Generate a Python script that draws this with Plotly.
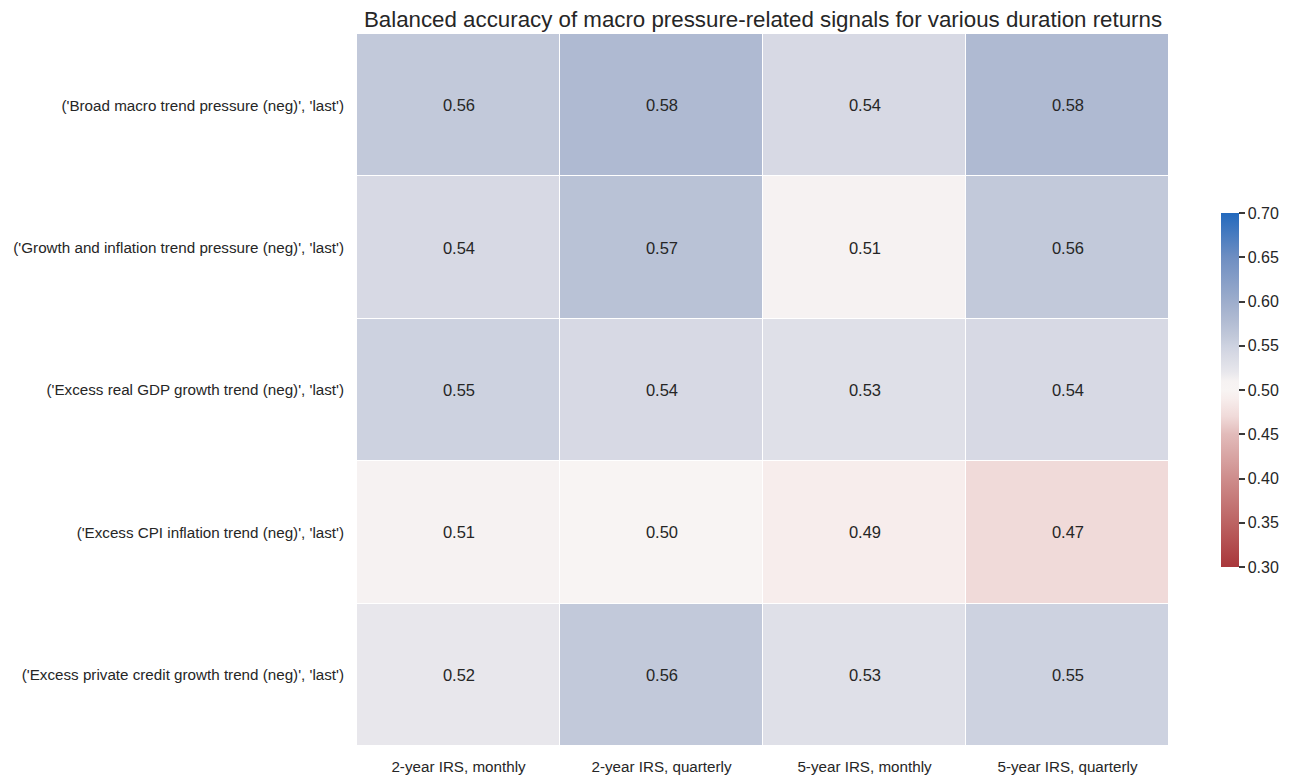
import plotly.graph_objects as go

rows = [
    "('Broad macro trend pressure (neg)', 'last')",
    "('Growth and inflation trend pressure (neg)', 'last')",
    "('Excess real GDP growth trend (neg)', 'last')",
    "('Excess CPI inflation trend (neg)', 'last')",
    "('Excess private credit growth trend (neg)', 'last')",
]
cols = ["2-year IRS, monthly", "2-year IRS, quarterly", "5-year IRS, monthly", "5-year IRS, quarterly"]
values = [
    [0.56, 0.58, 0.54, 0.58],
    [0.54, 0.57, 0.51, 0.56],
    [0.55, 0.54, 0.53, 0.54],
    [0.51, 0.50, 0.49, 0.47],
    [0.52, 0.56, 0.53, 0.55],
]
cbar_ticks = [0.30, 0.35, 0.40, 0.45, 0.50, 0.55, 0.60, 0.65, 0.70]

colorscale = [
    [0.0, "#A9373B"],
    [0.125, "#BC6363"],
    [0.25, "#CE8D8C"],
    [0.375, "#E2BBBA"],
    [0.425, "#F0DAD9"],
    [0.475, "#F7EDEC"],
    [0.5, "#F8F4F3"],
    [0.525, "#F6F2F2"],
    [0.55, "#E8E7EC"],
    [0.575, "#DFE0E8"],
    [0.6, "#D7D9E4"],
    [0.625, "#CDD2E0"],
    [0.65, "#C2C9DA"],
    [0.7, "#AFBAD2"],
    [0.75, "#9DADCC"],
    [0.875, "#6E8EC2"],
    [1.0, "#2369BD"],
]

text = [[f"{v:.2f}" for v in r] for r in values]

FONT = "Liberation Sans, Arial, sans-serif"

fig = go.Figure(go.Heatmap(
    z=values, x=cols, y=rows, zmin=0.3, zmax=0.7,
    colorscale=colorscale, xgap=1, ygap=1,
    text=text, texttemplate="%{text}",
    textfont=dict(size=16.5, color="#262626", family=FONT),
    hoverinfo="skip",
    colorbar=dict(
        x=1.064, xanchor="left", y=0.5, yanchor="middle", len=0.497, lenmode="fraction",
        thickness=18, outlinewidth=0, xpad=0, ypad=0, tickvals=cbar_ticks,
        ticktext=[f"{t:.2f}" for t in cbar_ticks],
        ticks="outside", ticklen=6, tickwidth=2, tickcolor="#3a3a3a",
        tickfont=dict(size=16, color="#262626", family=FONT),
    ),
))

fig.update_layout(
    width=1276, height=768,
    margin=dict(l=349, r=115, t=26, b=30, autoexpand=False),
    paper_bgcolor="white", plot_bgcolor="white",
    font=dict(family=FONT, color="#262626"),
    title=dict(text="Balanced accuracy of macro pressure-related signals for various duration returns",
               x=(349 + 349 + 812) / 2 / 1276, xanchor="center", y=1 - 11 / 768, yanchor="middle",
               font=dict(size=22.3, color="#262626", family=FONT)),
    xaxis=dict(showgrid=False, zeroline=False, ticks="", tickfont=dict(size=15.2), ticklabelstandoff=10,
               automargin=False),
    yaxis=dict(showgrid=False, zeroline=False, ticks="", autorange="reversed", tickfont=dict(size=15.2),
               ticklabelstandoff=12, automargin=False),
)

fig.write_html("out.html")
